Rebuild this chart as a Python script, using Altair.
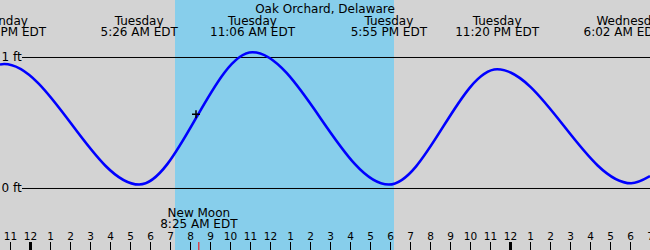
import altair as alt
import pandas as pd

# hours measured from Tuesday 00:00 EDT
curve_hours = [-1.525, -1.317, 5.433, 11.1, 17.917, 23.333, 30.033, 30.975]
curve_ft = [0.947, 0.95, 0.03, 1.04, 0.03, 0.91, 0.04, 0.095]

ext_hours = [-1.317, 5.433, 11.1, 17.917, 23.333, 30.033]
ext_day = ["Monday", "Tuesday", "Tuesday", "Tuesday", "Tuesday", "Wednesday"]
ext_time = ["10:41 PM EDT", "5:26 AM EDT", "11:06 AM EDT", "5:55 PM EDT", "11:20 PM EDT", "6:02 AM EDT"]
ext_edge = [0, 0, 0, 0, 0, 1]

sunrise_h = 7.225
sunset_h = 18.175

moon_h = 8.417
moon_name = "New Moon"
moon_time = "8:25 AM EDT"

now_h = 8.275
now_ft = 0.566

level_ft = [0, 1]
level_label = ["0 ft", "1 ft"]

tick_hours = list(range(-1, 32))
tick_labels = ["11", "12", "1", "2", "3", "4", "5", "6", "7", "8", "9", "10", "11",
               "12", "1", "2", "3", "4", "5", "6", "7", "8", "9", "10", "11",
               "12", "1", "2", "3", "4", "5", "6", "7"]

title_text = "Oak Orchard, Delaware"

FONT = "DejaVu Sans"
xs = alt.Scale(domain=[-1.525, 30.975], nice=False, zero=False)
ys = alt.Scale(domain=[-0.4695, 1.4389], nice=False, zero=False)

curve_df = pd.DataFrame({"h": curve_hours, "ft": curve_ft})
ext_df = pd.DataFrame({"h": ext_hours, "day": ext_day, "time": ext_time, "edge": ext_edge})
day_df = pd.DataFrame({"h": [sunrise_h], "h2": [sunset_h]})
moon_df = pd.DataFrame({"h": [moon_h], "name": [moon_name], "time": [moon_time]})
now_df = pd.DataFrame({"h": [now_h], "ft": [now_ft]})
lvl_df = pd.DataFrame({"ft": level_ft, "label": level_label})
tick_df = pd.DataFrame({"h": tick_hours, "label": tick_labels})
tick_df["w"] = [3 if h % 24 == 0 else 1 for h in tick_hours]

X = lambda f="h": alt.X(f"{f}:Q", scale=xs, axis=None)

band = alt.Chart(day_df).mark_rect(color="#87ceeb").encode(
    x=X(), x2="h2:Q", y=alt.value(0), y2=alt.value(250))

levels = alt.Chart(lvl_df).mark_rule(color="black", strokeWidth=1).encode(
    y=alt.Y("ft:Q", scale=ys, axis=None), x=alt.value(22), x2=alt.value(650))

level_text = alt.Chart(lvl_df).mark_text(
    font=FONT, fontSize=12, align="left", baseline="alphabetic", dy=3.5, color="black"
).encode(y=alt.Y("ft:Q", scale=ys, axis=None), x=alt.value(1.5), text="label:N")

curve = alt.Chart(curve_df).mark_line(
    color="#0000ff", strokeWidth=2.6, interpolate="monotone", clip=True
).encode(x=X(), y=alt.Y("ft:Q", scale=ys, axis=None), order="h:Q")

marker = alt.Chart(now_df).mark_point(
    shape="M-1,0L1,0M0,-1L0,1", size=64, filled=False, color="black", strokeWidth=1.5, opacity=1
).encode(x=X(), y=alt.Y("ft:Q", scale=ys, axis=None))

title = alt.Chart(pd.DataFrame({"t": [title_text]})).mark_text(
    font=FONT, fontSize=12, align="center", baseline="alphabetic", color="black"
).encode(x=alt.value(325), y=alt.value(13), text="t:N")

ext_day_text = alt.Chart(ext_df).mark_text(
    font=FONT, fontSize=12, align="center", baseline="alphabetic", color="black"
).encode(x=X(), y=alt.value(24.5), text="day:N")

ext_time_text = alt.Chart(ext_df).transform_filter("datum.edge == 0").mark_text(
    font=FONT, fontSize=12, align="center", baseline="alphabetic", color="black"
).encode(x=X(), y=alt.value(36), text="time:N")

ext_time_edge = alt.Chart(ext_df).transform_filter("datum.edge == 1").mark_text(
    font=FONT, fontSize=12, align="center", baseline="alphabetic", color="black", dx=-9
).encode(x=X(), y=alt.value(36), text="time:N")

moon_name_text = alt.Chart(moon_df).mark_text(
    font=FONT, fontSize=12, align="center", baseline="alphabetic", color="black"
).encode(x=X(), y=alt.value(216.7), text="name:N")

moon_time_text = alt.Chart(moon_df).mark_text(
    font=FONT, fontSize=12, align="center", baseline="alphabetic", color="black"
).encode(x=X(), y=alt.value(228.3), text="time:N")

ticks = alt.Chart(tick_df).mark_rule(color="black").encode(
    x=X(), y=alt.value(242), y2=alt.value(250),
    strokeWidth=alt.StrokeWidth("w:Q", scale=None))

tick_text = alt.Chart(tick_df).mark_text(
    font=FONT, fontSize=10.5, align="center", baseline="alphabetic", color="black"
).encode(x=X(), y=alt.value(239.5), text="label:N")

moon_tick = alt.Chart(moon_df).mark_rule(color="red", strokeWidth=1).encode(
    x=X(), y=alt.value(242), y2=alt.value(250))

chart = alt.layer(
    band, levels, level_text, curve, marker, title, ext_day_text, ext_time_text,
    ext_time_edge, moon_name_text, moon_time_text, ticks, moon_tick, tick_text
).properties(
    width=650, height=250, autosize="none", padding=0, background="#d3d3d3"
).configure_view(stroke=None)

chart.save("out.html", embed_options={"renderer": "svg", "actions": False})
